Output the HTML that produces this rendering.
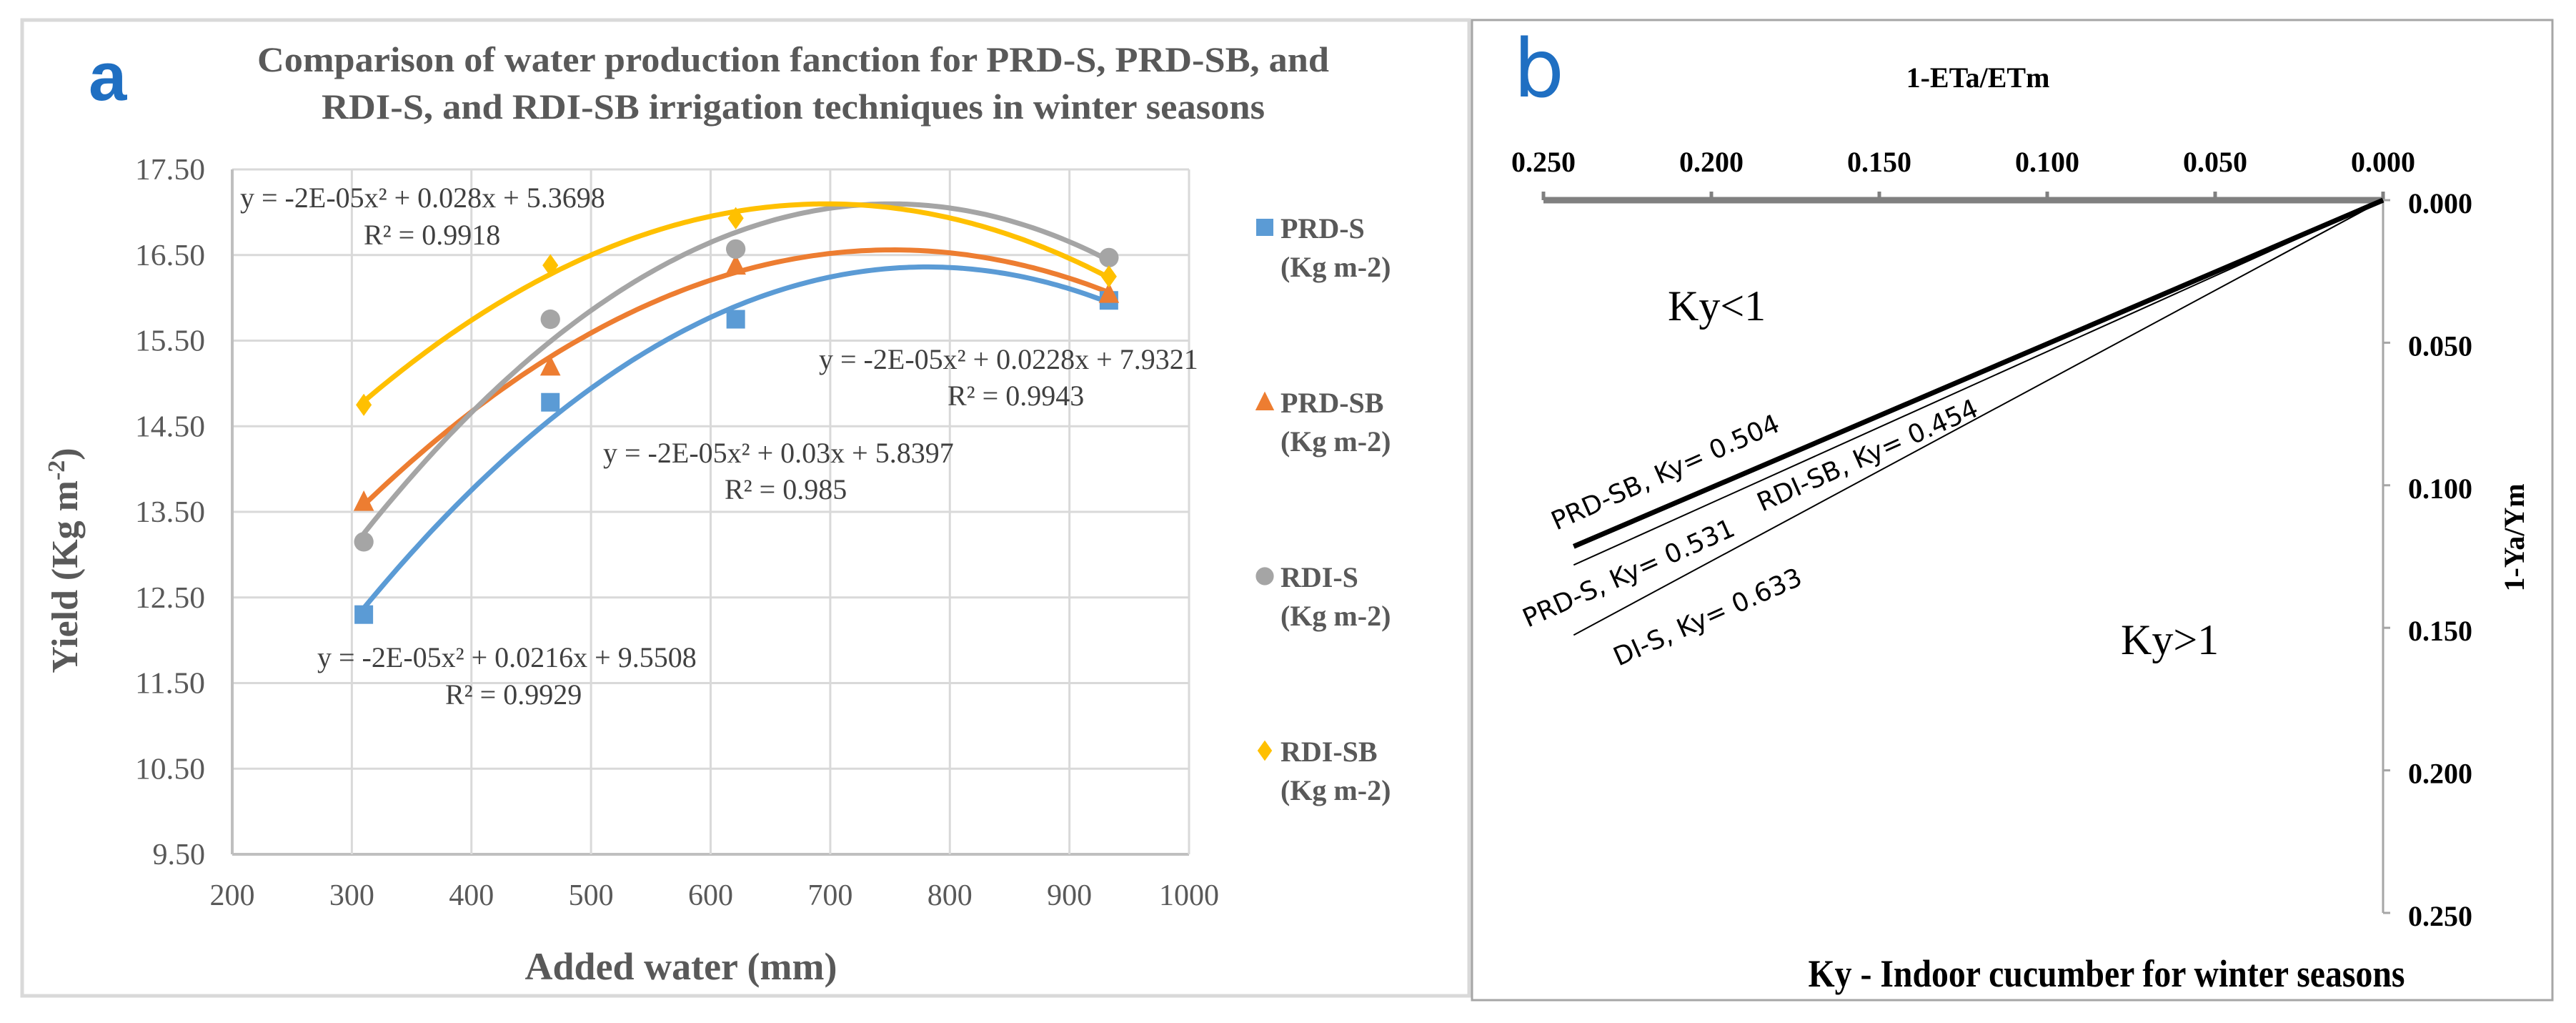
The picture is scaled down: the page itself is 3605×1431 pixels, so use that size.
<!DOCTYPE html>
<html><head><meta charset="utf-8">
<style>
html,body{margin:0;padding:0;background:#fff;}
svg{display:block;}
</style></head>
<body>
<svg id="fig" width="3605" height="1431" viewBox="0 0 3605 1431" xmlns="http://www.w3.org/2000/svg">
  <rect x="0" y="0" width="3605" height="1431" fill="#fff"/>
  <rect x="31" y="28" width="2025" height="1365" fill="none" stroke="#d9d9d9" stroke-width="5"/>
  <rect x="2060" y="28" width="1512" height="1371" fill="none" stroke="#a6a6a6" stroke-width="3"/>
  <g id="chartA"></g>
  <g id="chartB"></g>
</svg>
<script>
// ---------- Chart A data ----------
const xTicksA = [200,300,400,500,600,700,800,900,1000];
const yTicksA = [9.5,10.5,11.5,12.5,13.5,14.5,15.5,16.5,17.5];
const waterAdded = [310,466,621,933];
const seriesNames = ["PRD-S","PRD-SB","RDI-S","RDI-SB"];
const prdS  = [12.30,14.78,15.75,15.97];
const prdSB = [13.62,15.20,16.38,16.05];
const rdiS  = [13.15,15.75,16.57,16.47];
const rdiSB = [14.75,16.38,16.93,16.25];
// ---------- Chart B data ----------
const xTicksB = [0.25,0.2,0.15,0.1,0.05,0];
const yTicksB = [0,0.05,0.1,0.15,0.2,0.25];
const kyNames = ["PRD-SB","PRD-S","DI-S"];
const kyValues = [0.504,0.531,0.633];

const NS="http://www.w3.org/2000/svg";
function mk(parent,tag,attrs,text){const e=document.createElementNS(NS,tag);for(const k in attrs)e.setAttribute(k,attrs[k]);if(text!==undefined)e.textContent=text;parent.appendChild(e);return e;}

// ===== Chart A =====
const A=document.getElementById('chartA');
const ax0=325, ax1=1664, ay0=1195, ay1=237;
const xA=v=>ax0+(v-200)/800*(ax1-ax0);
const yA=v=>ay0-(v-9.5)/8*(ay0-ay1);
const serif='"Liberation Serif", serif';

let t=mk(A,'text',{x:124,y:140,'font-family':'"Liberation Sans", sans-serif','font-size':96,fill:'#1f6fc2','font-weight':'bold'},'a');


t=mk(A,'text',{x:1110,y:100,'text-anchor':'middle','font-family':serif,'font-size':50,'font-weight':'bold',fill:'#595959',textLength:1500,lengthAdjust:'spacingAndGlyphs'},'Comparison of water production fanction for PRD-S, PRD-SB, and');


t=mk(A,'text',{x:1110,y:166,'text-anchor':'middle','font-family':serif,'font-size':50,'font-weight':'bold',fill:'#595959',textLength:1320,lengthAdjust:'spacingAndGlyphs'},'RDI-S, and RDI-SB irrigation  techniques in winter seasons');



yTicksA.forEach(v=>{
  const g=mk(A,'line',{x1:ax0,x2:ax1,y1:yA(v),y2:yA(v),stroke:v===9.5?'#bfbfbf':'#d9d9d9','stroke-width':v===9.5?4:3});
  
  
  const s=v.toFixed(2);
  const attrs={x:287,y:yA(v)+14,'text-anchor':'end','font-family':serif,'font-size':42,fill:'#595959'};
  if(s.length===5){attrs.textLength=98;attrs.lengthAdjust='spacingAndGlyphs';}
  const l=mk(A,'text',attrs,s);
  
  
});
xTicksA.forEach(v=>{
  const g=mk(A,'line',{x1:xA(v),x2:xA(v),y1:ay1,y2:ay0,stroke:v===200?'#bfbfbf':'#d9d9d9','stroke-width':v===200?4:3});
  
  
  const l=mk(A,'text',{x:xA(v),y:1266,'text-anchor':'middle','font-family':serif,'font-size':42,fill:'#595959'},String(v));
  
  
});
t=mk(A,'text',{x:953,y:1370,'text-anchor':'middle','font-family':serif,'font-size':54,'font-weight':'bold',fill:'#595959'},'Added water (mm)');


t=mk(A,'text',{x:0,y:0,transform:'translate(108,784) rotate(-90)','text-anchor':'middle','font-family':serif,'font-size':52,'font-weight':'bold',fill:'#595959'});


t.innerHTML='Yield  (Kg m<tspan dy="-18" font-size="34">-2</tspan><tspan dy="18">)</tspan>';

function fitQuad(xs,ys){
  let S=[0,0,0,0,0],T=[0,0,0];
  for(let i=0;i<xs.length;i++){let p=1;for(let k=0;k<5;k++){S[k]+=p;if(k<3)T[k]+=p*ys[i];p*=xs[i];}}
  const M=[[S[0],S[1],S[2],T[0]],[S[1],S[2],S[3],T[1]],[S[2],S[3],S[4],T[2]]];
  for(let i=0;i<3;i++){for(let j=i+1;j<3;j++){const f=M[j][i]/M[i][i];for(let k=i;k<4;k++)M[j][k]-=f*M[i][k];}}
  const c=[0,0,0];for(let i=2;i>=0;i--){let s=M[i][3];for(let k=i+1;k<3;k++)s-=M[i][k]*c[k];c[i]=s/M[i][i];}
  return x=>c[0]+c[1]*x+c[2]*x*x;
}
const colors=['#5b9bd5','#ed7d31','#a5a5a5','#ffc000'];
const allSeries=[prdS,prdSB,rdiS,rdiSB];
const markers=['square','triangle','circle','diamond'];
function drawMarker(parent,type,cx,cy,col,s){
  let e;
  if(type==='square')e=mk(parent,'rect',{x:cx-s,y:cy-s,width:2*s,height:2*s,fill:col});
  else if(type==='triangle')e=mk(parent,'polygon',{points:`${cx},${cy-s*1.2} ${cx+s*1.1},${cy+s} ${cx-s*1.1},${cy+s}`,fill:col});
  else if(type==='circle')e=mk(parent,'circle',{cx:cx,cy:cy,r:s*1.05,fill:col});
  else e=mk(parent,'polygon',{points:`${cx},${cy-s*1.2} ${cx+s*0.85},${cy} ${cx},${cy+s*1.2} ${cx-s*0.85},${cy}`,fill:col});
  return e;
}
allSeries.forEach((ys,si)=>{
  const f=fitQuad(waterAdded,ys);
  let d='';
  for(let x=waterAdded[0];x<=waterAdded[3];x+=4){d+=(d?'L':'M')+xA(x).toFixed(1)+','+yA(f(x)).toFixed(1);}
  const p=mk(A,'path',{d:d,fill:'none',stroke:colors[si],'stroke-width':7,'stroke-linecap':'round'});
  
  
});
allSeries.forEach((ys,si)=>{
  ys.forEach((v,i)=>{
    const m=drawMarker(A,markers[si],xA(waterAdded[i]),yA(v),colors[si],13);
    
    
  });
});
const eqs=[
 ['y = -2E-05x² + 0.028x + 5.3698',336,290,'R² = 0.9918',509,342],
 ['y = -2E-05x² + 0.0228x + 7.9321',1146,516,'R² = 0.9943',1326,567],
 ['y = -2E-05x² + 0.03x + 5.8397',844,647,'R² = 0.985',1014,698],
 ['y = -2E-05x² + 0.0216x + 9.5508',444,933,'R² = 0.9929',623,985]];
eqs.forEach(q=>{
  const e1=mk(A,'text',{x:q[1],y:q[2],'font-family':serif,'font-size':40,fill:'#404040'},q[0]);
  
  
  const e2=mk(A,'text',{x:q[4],y:q[5],'font-family':serif,'font-size':40,fill:'#404040'},q[3]);
  
  
});
seriesNames.forEach((n,i)=>{
  const y=333+i*244;
  const m=drawMarker(A,markers[i],1770,y-15,colors[i],12);
  
  
  const l1=mk(A,'text',{x:1792,y:y,'font-family':serif,'font-size':40,'font-weight':'bold',fill:'#595959'},n);
  
  
  const l2=mk(A,'text',{x:1792,y:y+54,'font-family':serif,'font-size':40,'font-weight':'bold',fill:'#595959'},'(Kg m-2)');
  
  
});

// ===== Chart B =====
const B=document.getElementById('chartB');
const bx0=2160, bx1=3335, by0=280, by1=1277;
const xB=v=>bx1-(v/0.25)*(bx1-bx0);
const yB=v=>by0+(v/0.25)*(by1-by0);
const lineEnd=0.241;

t=mk(B,'text',{x:2118,y:135,'font-family':'"DejaVu Sans", sans-serif','font-size':112,fill:'#1f6fc2'},'b');


t=mk(B,'text',{x:2768,y:122,'text-anchor':'middle','font-family':serif,'font-size':40,'font-weight':'bold',fill:'#000'},'1-ETa/ETm');


t=mk(B,'line',{x1:bx0,x2:bx1,y1:by0,y2:by0,stroke:'#808080','stroke-width':9});


xTicksB.forEach(v=>{
  const k=mk(B,'line',{x1:xB(v),x2:xB(v),y1:by0,y2:by0-12,stroke:'#808080','stroke-width':5});
  
  
  const l=mk(B,'text',{x:xB(v),y:240,'text-anchor':'middle','font-family':serif,'font-size':40,'font-weight':'bold',fill:'#000'},v.toFixed(3));
  
  
});
t=mk(B,'line',{x1:bx1,x2:bx1,y1:by0,y2:by1,stroke:'#a6a6a6','stroke-width':3});


yTicksB.forEach(v=>{
  const k=mk(B,'line',{x1:bx1,x2:bx1+10,y1:yB(v),y2:yB(v),stroke:'#a6a6a6','stroke-width':3});
  
  
  const l=mk(B,'text',{x:3370,y:yB(v)+18,'font-family':serif,'font-size':40,'font-weight':'bold',fill:'#000'},v.toFixed(3));
  
  
});
t=mk(B,'text',{x:0,y:0,transform:'translate(3532,752) rotate(-90)','text-anchor':'middle','font-family':serif,'font-size':40,'font-weight':'bold',fill:'#000'},'1-Ya/Ym');


t=mk(B,'text',{x:2948,y:1380,'text-anchor':'middle','font-family':serif,'font-size':54,'font-weight':'bold',fill:'#000',textLength:835,lengthAdjust:'spacingAndGlyphs'},'Ky - Indoor cucumber for winter seasons');


t=mk(B,'text',{x:2334,y:448,'font-family':serif,'font-size':60,fill:'#000'},'Ky<1');


t=mk(B,'text',{x:2968,y:915,'font-family':serif,'font-size':60,fill:'#000'},'Ky>1');


kyValues.forEach((k,i)=>{
  const ln=mk(B,'line',{x1:xB(0),y1:yB(0),x2:xB(lineEnd),y2:yB(lineEnd*k),stroke:'#000','stroke-width':i===0?7:2});
  
  
});
const kyLabels=[
 ['PRD-SB,  Ky= 0.504',2178,742],
 ['PRD-S,  Ky= 0.531',2138,878],
 ['RDI-SB, Ky= 0.454',2466,716],
 ['DI-S, Ky= 0.633',2265,932]];
kyLabels.forEach(q=>{
  const e=mk(B,'text',{x:q[1],y:q[2],transform:`rotate(-24 ${q[1]} ${q[2]})`,'font-family':'"DejaVu Sans", sans-serif','font-size':36,fill:'#000'},q[0]);
  
  
});
</script>
</body></html>
